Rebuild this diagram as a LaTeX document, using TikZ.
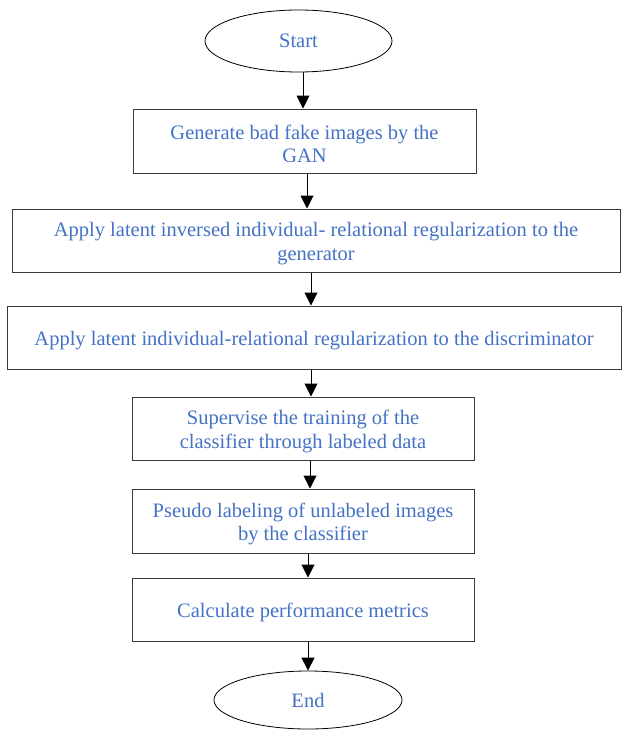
\documentclass[tikz,border=0pt]{standalone}
\usepackage{fontspec}
\setmainfont{Liberation Serif}
\usetikzlibrary{shapes.geometric,arrows.meta}
\definecolor{txtblue}{HTML}{4472C4}
\definecolor{edge}{HTML}{3A3A3A}
\newcommand{\toppad}{\rule{0pt}{20pt}}
\tikzset{
  procbox/.style={draw=edge,line width=1pt,rectangle,inner sep=0pt,align=center,
    text=txtblue,font=\fontsize{20.5}{23.5}\selectfont},
  term/.style={draw=black,line width=0.8pt,ellipse,inner sep=0pt,text=txtblue,
    font=\fontsize{20.5}{23.5}\selectfont},
  arr/.style={draw=black,line width=1pt,-{Triangle[width=13pt,length=13pt]}}
}
\begin{document}
\begin{tikzpicture}[x=1pt,y=-1pt]
\useasboundingbox (0,0) rectangle (622,731);
\node[term,minimum width=187pt,minimum height=62pt] (start) at (298.5,41) {Start};
\node[procbox,minimum width=343pt,minimum height=64pt] (b1) at (304.5,141)
  {\toppad Generate bad fake images by the\\GAN};
\node[procbox,minimum width=608pt,minimum height=63pt] (b2) at (316,240.5)
  {\toppad Apply latent inversed individual- relational regularization to the\\generator};
\node[procbox,minimum width=614pt,minimum height=63pt] (b3) at (314,337.5)
  {\toppad Apply latent individual-relational regularization to the discriminator};
\node[procbox,minimum width=342pt,minimum height=63pt] (b4) at (303,428.5)
  {\toppad Supervise the training of the\\classifier through labeled data};
\node[procbox,minimum width=342pt,minimum height=64pt] (b5) at (303,521)
  {\toppad Pseudo labeling of unlabeled images\\by the classifier};
\node[procbox,minimum width=342pt,minimum height=63pt] (b6) at (303,609.5)
  {\toppad Calculate performance metrics};
\node[term,minimum width=188pt,minimum height=58pt] (end) at (308,700) {End};
\draw[arr] (303,0 |- start.south) -- (303,0 |- b1.north);
\draw[arr] (307,0 |- b1.south) -- (307,0 |- b2.north);
\draw[arr] (311,0 |- b2.south) -- (311,0 |- b3.north);
\draw[arr] (311,0 |- b3.south) -- (311,0 |- b4.north);
\draw[arr] (310,0 |- b4.south) -- (310,0 |- b5.north);
\draw[arr] (308,0 |- b5.south) -- (308,0 |- b6.north);
\draw[arr] (308,0 |- b6.south) -- (end.north);
\end{tikzpicture}
\end{document}
